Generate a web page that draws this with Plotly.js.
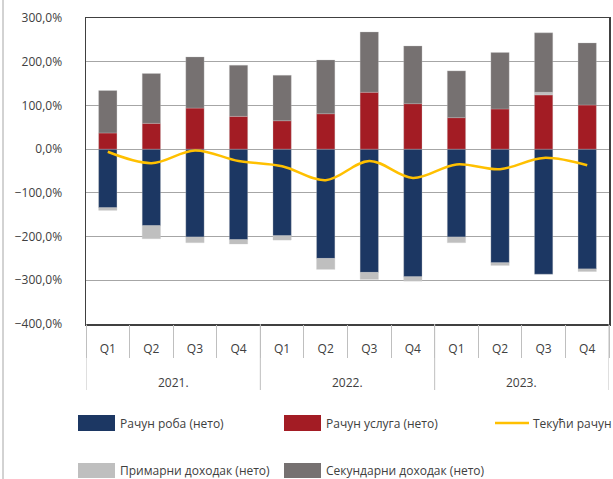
<!DOCTYPE html>
<html>
<head>
<meta charset="utf-8">
<script src="https://cdn.plot.ly/plotly-3.0.1.min.js"></script>
<style>html,body{margin:0;padding:0;background:#fff;}#chart{width:613px;height:479px;}</style>
</head>
<body>
<div id="chart"></div>
<script>
const years = ['2021.', '2022.', '2023.'];
const quarters = ['Q1', 'Q2', 'Q3', 'Q4'];
const goods = [-134, -175, -201, -207, -198, -250, -282, -292, -201, -260, -286, -274];
const services = [37, 59, 94, 75, 65, 81, 130, 104, 72, 92, 124, 101];
const primary = [-6, -30, -13, -10, -10, -25, -16, -10, -13, -6, 6, -6];
const secondary = [97, 114, 117, 117, 104, 123, 138, 132, 107, 129, 136, 142];
const current = [-6, -32, -3, -27, -39, -71, -27, -66, -35, -46, -20, -37];
const names = ['Рачун роба (нето)', 'Рачун услуга (нето)', 'Текући рачун', 'Примарни доходак (нето)', 'Секундарни доходак (нето)'];
const colors = {goods: '#1c3763', services: '#a31c24', current: '#ffc000', primary: '#bfbfbf', secondary: '#767171'};

const xCats = [], xQuarters = [];
years.forEach(y => quarters.forEach(q => { xCats.push(y + ' ' + q); xQuarters.push(q); }));
const n = xCats.length;

const W = 613, H = 479, ML = 86, MR = 4, MT = 18, MB = 155;
const PW = W - ML - MR, PH = H - MT - MB;
const px = x => (x - ML) / PW;
const py = y => (H - MB - y) / PH;

const barLine = {width: 0.6, color: 'rgba(200,200,200,0.5)'};
const bar = (vals, name, color) => ({type: 'bar', x: xCats, y: vals, name: name, marker: {color: color, line: barLine}, width: 0.42, showlegend: false, hoverinfo: 'y'});
const traces = [
  bar(goods, names[0], colors.goods),
  bar(services, names[1], colors.services),
  bar(primary, names[3], colors.primary),
  bar(secondary, names[4], colors.secondary),
  {type: 'scatter', mode: 'lines', x: xCats, y: current, name: names[2], line: {color: colors.current, width: 2.5, shape: 'spline', smoothing: 1}, showlegend: false}
];

const qBounds = [], yBounds = [], innerBounds = [];
for (let i = 0; i <= n; i++) {
  qBounds.push(i - 0.5);
  if (i % quarters.length === 0) yBounds.push(i - 0.5);
  if (i > 0 && i < n) innerBounds.push(i - 0.5);
}

const textColor = '#404040';
const font = {family: 'Open Sans, Noto Sans, sans-serif', size: 12, color: textColor};

// legend geometry (pixels)
const colX = [78, 284];
const swW = 37;
const row1 = {top: 415, bot: 431, mid: 423};
const row2 = {top: 463, bot: 478, mid: 470.5};
const lineX0 = 495, lineX1 = 529, lineTextX = 531;

const shapes = [
  {type: 'line', xref: 'paper', yref: 'paper', x0: px(3), x1: px(3), y0: py(0), y1: py(H), line: {color: '#a6a6a6', width: 1}},
  {type: 'rect', xref: 'paper', yref: 'paper', x0: px(colX[0]), x1: px(colX[0] + swW), y0: py(row1.bot), y1: py(row1.top), fillcolor: colors.goods, line: {width: 0}},
  {type: 'rect', xref: 'paper', yref: 'paper', x0: px(colX[1]), x1: px(colX[1] + swW), y0: py(row1.bot), y1: py(row1.top), fillcolor: colors.services, line: {width: 0}},
  {type: 'line', xref: 'paper', yref: 'paper', x0: px(lineX0), x1: px(lineX1), y0: py(row1.mid), y1: py(row1.mid), line: {color: colors.current, width: 2.5}},
  {type: 'rect', xref: 'paper', yref: 'paper', x0: px(colX[0]), x1: px(colX[0] + swW), y0: py(row2.bot), y1: py(row2.top), fillcolor: colors.primary, line: {width: 0}},
  {type: 'rect', xref: 'paper', yref: 'paper', x0: px(colX[1]), x1: px(colX[1] + swW), y0: py(row2.bot), y1: py(row2.top), fillcolor: colors.secondary, line: {width: 0}}
];
yBounds.forEach(b => shapes.push({
  type: 'line', xref: 'x3', yref: 'paper', x0: b, x1: b, y0: 0, y1: py(390),
  line: {color: '#bfbfbf', width: 1}
}));

const ann = (x, y, t) => ({xref: 'paper', yref: 'paper', x: px(x), y: py(y), text: t, showarrow: false, xanchor: 'left', yanchor: 'middle', font: font});
const annotations = [
  ann(colX[0] + swW + 3, row1.mid, names[0]),
  ann(colX[1] + swW + 3, row1.mid, names[1]),
  ann(lineTextX, row1.mid, names[2]),
  ann(colX[0] + swW + 3, row2.mid, names[3]),
  ann(colX[1] + swW + 3, row2.mid, names[4])
];
years.forEach((y, i) => annotations.push({
  xref: 'x3', yref: 'paper', x: i * quarters.length + (quarters.length - 1) / 2, y: py(382),
  text: y, showarrow: false, xanchor: 'center', yanchor: 'middle', font: font
}));

const overlayAxis = (extra) => Object.assign({
  type: 'linear', overlaying: 'x', range: [-0.5, n - 0.5],
  showticklabels: false, showgrid: false, zeroline: false
}, extra);

const layout = {
  width: W, height: H,
  margin: {l: ML, r: MR, t: MT, b: MB, pad: 0},
  paper_bgcolor: '#ffffff', plot_bgcolor: '#ffffff',
  font: font,
  separators: ',.',
  barmode: 'relative',
  showlegend: false,
  xaxis: {
    type: 'category', tickvals: xCats, ticktext: xQuarters,
    showline: true, mirror: true, linecolor: '#404040', linewidth: 1.5,
    ticks: 'outside', ticklen: 13, tickcolor: 'rgba(0,0,0,0)',
    showgrid: false, tickfont: font
  },
  xaxis2: overlayAxis({
    anchor: 'free', position: 4 / 7,
    tickvals: innerBounds, ticks: 'outside', ticklen: 5, tickcolor: '#a6a6a6', tickwidth: 1,
    showline: true, linecolor: '#a6a6a6', linewidth: 1
  }),
  xaxis3: overlayAxis({
    anchor: 'y', side: 'bottom',
    tickvals: qBounds, ticks: 'outside', ticklen: 33, tickcolor: '#bfbfbf', tickwidth: 1,
    showline: false
  }),
  yaxis: {
    range: [-400, 300], dtick: 100, tick0: 0,
    tickformat: '.1f', ticksuffix: '%',
    showline: true, mirror: true, linecolor: '#404040', linewidth: 1.5,
    ticks: 'outside', ticklen: 20, tickcolor: 'rgba(0,0,0,0)',
    gridcolor: '#a6a6a6', gridwidth: 1, zeroline: false,
    tickfont: font
  },
  shapes: shapes,
  annotations: annotations
};

Plotly.newPlot('chart', traces, layout, {displayModeBar: false, staticPlot: true});
</script>
</body>
</html>
